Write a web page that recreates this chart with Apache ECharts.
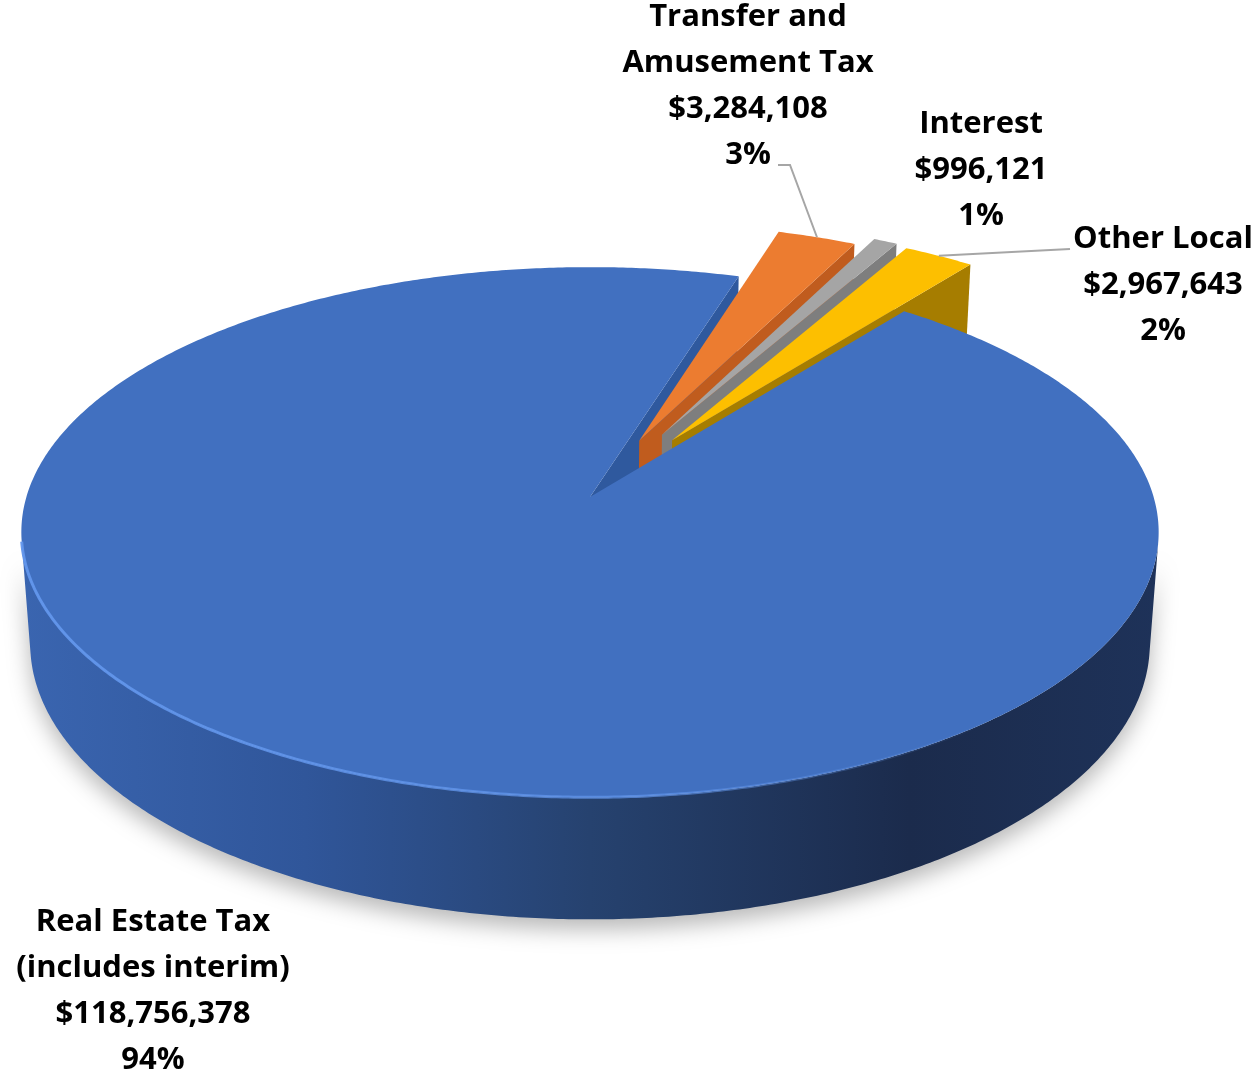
<!DOCTYPE html>
<html>
<head>
<meta charset="utf-8">
<script src="https://cdn.jsdelivr.net/npm/echarts@6/dist/echarts.min.js"></script>
<style>
  html, body { margin: 0; padding: 0; background: #ffffff; }
  #chart { width: 1253px; height: 1078px; }
</style>
</head>
<body>
<div id="chart"></div>
<script>
// Revenue sources
const categories = ['Real Estate Tax\n(includes interim)', 'Transfer and\nAmusement Tax', 'Interest', 'Other Local'];
const amounts = [118756378, 3284108, 996121, 2967643];

// Pie layout: first slice starts this many degrees clockwise from 12 o'clock
const firstSliceAngle = 38;
// Radial pull-out of each slice, as a fraction of the radius
const explode = [0, 0.24, 0.28, 0.27];

// Colours: top face, cut faces, outer wall
const sliceStyle = [
  { top: '#4170c0', face: '#2f599e', wall: '#2a4a85' },
  { top: '#ec7c30', face: '#c05c1e', wall: '#a44e18' },
  { top: '#a5a5a5', face: '#7e7e7e', wall: '#6e6e6e' },
  { top: '#fdbf00', face: '#a67d00', wall: '#8c6a00' }
];

// Label placement (centre of each text block) and leader-line elbows
const labelLayout = [
  { x: 153, y: 991 },
  { x: 748, y: 86, leader: [[778, 165], [790, 165]] },
  { x: 981, y: 170 },
  { x: 1163, y: 285, leader: [[1070, 249]] }
];
const labelFont = { fontFamily: 'Open Sans', fontWeight: 'bold', fontSize: 31, lineHeight: 46 };

// Camera for the tilted disc (unit radius)
const view = { cx: 590, cy: 497, f: 3765, D: 6.68, tilt: Math.asin(0.462), depth: 0.225 };
const cosT = Math.cos(view.tilt), sinT = Math.sin(view.tilt);
const cam = [0, view.D * sinT, -view.D * cosT];

function project(X, Y, Z) {
  const d = view.D + Z * cosT - Y * sinT;
  const u = Y * cosT + Z * sinT;
  return [view.cx + view.f * X / d, view.cy - view.f * u / d];
}
const rad = a => a * Math.PI / 180;

const total = amounts.reduce((s, v) => s + v, 0);
const starts = [];
{
  let a = firstSliceAngle;
  amounts.forEach(v => { starts.push(a); a += v / total * 360; });
}
const mids = amounts.map((v, i) => starts[i] + v / total * 180);
const offsets = mids.map((m, i) => [explode[i] * Math.sin(rad(m)), explode[i] * Math.cos(rad(m))]);

function rimPoint(i, a, Y) {
  const o = offsets[i];
  return project(o[0] + Math.sin(rad(a)), Y, o[1] + Math.cos(rad(a)));
}

function faceVisible(P, n) {
  return (cam[0] - P[0]) * n[0] + (cam[1] - P[1]) * n[1] + (cam[2] - P[2]) * n[2] > 0;
}

function renderItem(params, api) {
  const i = params.dataIndex;
  const value = api.value(0);
  const sweep = value / total * 360;
  const a0 = starts[i], a1 = a0 + sweep;
  const o = offsets[i];
  const h = view.depth;
  const st = sliceStyle[i];
  // Side faces sit below the top plane: paint them first, in clockwise
  // order, so each exploded slice covers the cut face of the one before it.
  const zWall = i * 5;
  const zTop = 40 + i;
  const children = [];

  // Outer wall: only the stretches turned towards the camera
  const N = Math.max(8, Math.ceil(sweep * 2));
  const angs = [];
  for (let j = 0; j <= N; j++) angs.push(a0 + sweep * j / N);
  let run = null;
  const runs = [];
  for (let j = 0; j < N; j++) {
    const am = rad((angs[j] + angs[j + 1]) / 2);
    const n = [Math.sin(am), 0, Math.cos(am)];
    const P = [o[0] + n[0], 0, o[1] + n[2]];
    if (faceVisible(P, n)) {
      if (!run) { run = [angs[j]]; runs.push(run); }
      run.push(angs[j + 1]);
    } else run = null;
  }
  const wallFill = i === 0 ? {
    type: 'linear', x: view.cx - 570, y: 0, x2: view.cx + 570, y2: 0, global: true,
    colorStops: [
      { offset: 0, color: '#3a65b0' },
      { offset: 0.25, color: '#30569a' },
      { offset: 0.5, color: '#26426f' },
      { offset: 0.78, color: '#1b2b4c' },
      { offset: 1, color: '#1e3259' }
    ]
  } : st.wall;
  runs.forEach(r => {
    const pts = r.map(a => rimPoint(i, a, 0)).concat(r.slice().reverse().map(a => rimPoint(i, a, -h)));
    children.push({
      type: 'polygon', z2: zWall + 1, shape: { points: pts },
      style: {
        fill: wallFill,
        shadowBlur: i === 0 ? 22 : 0, shadowOffsetY: 10, shadowColor: 'rgba(0,0,0,0.28)'
      }
    });
  });

  // Radial cut faces
  const cut = (a, sign) => {
    const s = Math.sin(rad(a)), c = Math.cos(rad(a));
    const n = sign < 0 ? [-c, 0, s] : [c, 0, -s];
    const P = [o[0], 0, o[1]];
    if (!faceVisible(P, n)) return;
    const pts = [
      project(o[0], 0, o[1]), rimPoint(i, a, 0), rimPoint(i, a, -h), project(o[0], -h, o[1])
    ];
    children.push({ type: 'polygon', z2: zWall + 2, shape: { points: pts }, style: { fill: st.face } });
  };
  cut(a0, -1);
  cut(a1, 1);

  // Top face
  const topPts = [project(o[0], 0, o[1])].concat(angs.map(a => rimPoint(i, a, 0)));
  children.push({ type: 'polygon', z2: zTop, shape: { points: topPts }, style: { fill: st.top } });

  // Light catching the front rim
  if (i === 0) {
    runs.forEach(r => {
      children.push({
        type: 'polyline', z2: 48, shape: { points: r.map(a => rimPoint(i, a, 0)) },
        style: {
          fill: null, lineWidth: 3,
          stroke: {
            type: 'linear', x: view.cx - 570, y: 0, x2: view.cx + 570, y2: 0, global: true,
            colorStops: [
              { offset: 0, color: 'rgba(98,150,236,0.95)' },
              { offset: 0.55, color: 'rgba(98,150,236,0.7)' },
              { offset: 0.85, color: 'rgba(98,150,236,0)' },
              { offset: 1, color: 'rgba(98,150,236,0)' }
            ]
          }
        }
      });
    });
  }

  // Label
  const pct = Math.round(value / total * 100);
  const lay = labelLayout[i];
  children.push({
    type: 'text', z2: 100, x: lay.x, y: lay.y,
    style: Object.assign({
      text: categories[i] + '\n$' + value.toLocaleString('en-US') + '\n' + pct + '%',
      fill: '#000000', align: 'center', verticalAlign: 'middle'
    }, labelFont)
  });
  if (lay.leader) {
    const m = rad(mids[i]);
    const end = project(o[0] + Math.sin(m), 0, o[1] + Math.cos(m));
    children.push({
      type: 'polyline', z2: 99, shape: { points: lay.leader.concat([end]) },
      style: { fill: null, stroke: '#a6a6a6', lineWidth: 2 }
    });
  }

  return { type: 'group', children };
}

const chart = echarts.init(document.getElementById('chart'));
chart.setOption({
  animation: false,
  backgroundColor: '#ffffff',
  series: [{
    type: 'custom',
    coordinateSystem: 'none',
    renderItem,
    data: amounts.map((v, i) => ({ name: categories[i], value: [v, i] }))
  }]
});
</script>
</body>
</html>
